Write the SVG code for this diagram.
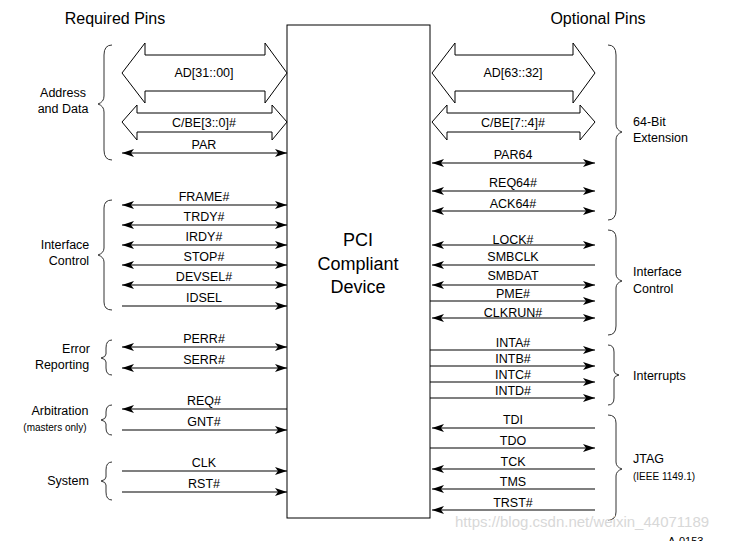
<svg xmlns="http://www.w3.org/2000/svg" width="736" height="541" viewBox="0 0 736 541">
<defs>
<marker id="ah" viewBox="0 0 12 8" refX="12" refY="4" markerWidth="12" markerHeight="8" orient="auto-start-reverse" markerUnits="userSpaceOnUse"><path d="M0,0 L12,4 L0,8 L3,4 Z" fill="#000"/></marker>
<style>
text{font-family:"Liberation Sans",Arial,sans-serif;font-size:12.5px;fill:#000}
.c{text-anchor:middle}
.t{font-size:16px}
.l{stroke:#000;stroke-width:1.2;fill:none}
.b{stroke:#000;stroke-width:1;fill:#fff}
.br{stroke:#333;stroke-width:1;fill:none}
.e{marker-end:url(#ah)}
.s{marker-start:url(#ah)}
</style>
</defs>
<rect width="736" height="541" fill="#fff"/>
<text x="115" y="24" class="c t">Required Pins</text>
<text x="598" y="24" class="c t">Optional Pins</text>
<g id="device"><rect x="287" y="25" width="143" height="493" class="b"/>
<text x="358" y="246" class="c" style="font-size:18px">PCI</text>
<text x="358" y="270" class="c" style="font-size:18px">Compliant</text>
<text x="358" y="293" class="c" style="font-size:18px">Device</text></g>
<g id="connectors">
<path class="b" d="M122,73 L145,43 L145,55 L265,55 L265,43 L287,73 L265,103 L265,91 L145,91 L145,103 Z"/>
<text x="204" y="77" class="c">AD[31::00]</text>
<path class="b" d="M122,122 L137,105 L137,113 L272,113 L272,105 L287,122 L272,140 L272,132 L137,132 L137,140 Z"/>
<text x="204" y="127" class="c">C/BE[3::0]#</text>
<path class="b" d="M432,73 L455,43 L455,55 L573,55 L573,43 L595,73 L573,103 L573,91 L455,91 L455,103 Z"/>
<text x="513" y="77" class="c">AD[63::32]</text>
<path class="b" d="M432,122 L447,105 L447,113 L580,113 L580,105 L595,122 L580,140 L580,132 L447,132 L447,140 Z"/>
<text x="513" y="127" class="c">C/BE[7::4]#</text>
<g class="l">
<path class="s e" d="M122,153H287"/>
<path class="s e" d="M122,205H287"/><path class="s e" d="M122,225H287"/><path class="s e" d="M122,245H287"/><path class="s e" d="M122,265H287"/><path class="s e" d="M122,285H287"/><path class="e" d="M122,306H287"/>
<path class="s e" d="M122,347H287"/><path class="s e" d="M122,368H287"/>
<path class="e" d="M287,409H122"/><path class="e" d="M122,430H287"/>
<path class="e" d="M122,471H287"/><path class="e" d="M122,492H287"/>
<path class="s e" d="M432,163H595"/><path class="s e" d="M432,191H595"/><path class="s e" d="M432,211H595"/>
<path class="s e" d="M432,245H595"/><path class="e" d="M595,265H432"/><path class="s e" d="M432,285H595"/><path class="e" d="M430,301H595"/><path class="s e" d="M432,318H595"/>
<path class="e" d="M430,350H595"/><path class="e" d="M430,366H595"/><path class="e" d="M430,382H595"/><path class="e" d="M430,398H595"/>
<path class="e" d="M595,428H432"/><path class="e" d="M430,448H595"/><path class="e" d="M595,469H432"/><path class="e" d="M595,489H432"/><path class="e" d="M595,510H432"/>
</g>
<g class="c">
<text x="204" y="149">PAR</text>
<text x="204" y="201">FRAME#</text><text x="204" y="221">TRDY#</text><text x="204" y="241">IRDY#</text><text x="204" y="261">STOP#</text><text x="204" y="281">DEVSEL#</text><text x="204" y="302">IDSEL</text>
<text x="204" y="343">PERR#</text><text x="204" y="364">SERR#</text>
<text x="204" y="405">REQ#</text><text x="204" y="426">GNT#</text>
<text x="204" y="467">CLK</text><text x="204" y="488">RST#</text>
<text x="513" y="159">PAR64</text><text x="513" y="187">REQ64#</text><text x="513" y="208">ACK64#</text>
<text x="513" y="244">LOCK#</text><text x="513" y="261">SMBCLK</text><text x="513" y="280">SMBDAT</text><text x="513" y="298">PME#</text><text x="513" y="317">CLKRUN#</text>
<text x="513" y="347">INTA#</text><text x="513" y="363">INTB#</text><text x="513" y="379">INTC#</text><text x="513" y="395">INTD#</text>
<text x="513" y="424">TDI</text><text x="513" y="445">TDO</text><text x="513" y="466">TCK</text><text x="513" y="486">TMS</text><text x="513" y="507">TRST#</text>
</g>
</g>
<g id="braces" class="br">
<path d="M112,45 Q104,45 104,55 L104,96 Q104,102 98,104 Q104,106 104,112 L104,150 Q104,160 112,160"/>
<path d="M112,200 Q104,200 104,208 L104,248 Q104,253 98,255 Q104,257 104,262 L104,302 Q104,310 112,310"/>
<path d="M112,340 Q106,340 106,348 L106,354 Q106,357 101,358 Q106,359 106,362 L106,368 Q106,375 112,375"/>
<path d="M112,405 Q106,405 106,412 L106,416 Q106,419 101,420 Q106,421 106,424 L106,428 Q106,435 112,435"/>
<path d="M112,462 Q106,462 106,470 L106,477 Q106,480 101,481 Q106,482 106,485 L106,492 Q106,500 112,500"/>
<path d="M608,45 Q616,45 616,55 L616,124 Q616,130 622,132 Q616,134 616,140 L616,210 Q616,220 608,220"/>
<path d="M608,230 Q616,230 616,238 L616,274 Q616,279 622,281 Q616,283 616,288 L616,326 Q616,335 608,335"/>
<path d="M608,345 Q614,345 614,352 L614,371 Q614,374 619,375 Q614,376 614,379 L614,398 Q614,405 608,405"/>
<path d="M608,415 Q616,415 616,423 L616,462 Q616,467 622,469 Q616,471 616,476 L616,512 Q616,520 608,520"/>
</g>
<g id="groups">
<text x="63" y="97" class="c">Address</text><text x="63" y="113" class="c">and Data</text>
<text x="65" y="249" class="c">Interface</text><text x="69" y="265" class="c">Control</text>
<text x="76" y="353" class="c">Error</text><text x="62" y="369" class="c">Reporting</text>
<text x="60" y="415" class="c">Arbitration</text><text x="55" y="431" class="c" style="font-size:10px">(masters only)</text>
<text x="68" y="485" class="c">System</text>
<text x="633" y="126">64-Bit</text><text x="633" y="142">Extension</text>
<text x="633" y="276">Interface</text><text x="633" y="293">Control</text>
<text x="633" y="380">Interrupts</text>
<text x="633" y="463">JTAG</text><text x="633" y="480" style="font-size:10px">(IEEE 1149.1)</text>
</g>
<text x="455" y="527" style="font-size:15px;fill:#d8d8d8">https://blog.csdn.net/weixin_44071189</text>
<text x="668" y="545" style="font-size:11px">A-0153</text>
</svg>
